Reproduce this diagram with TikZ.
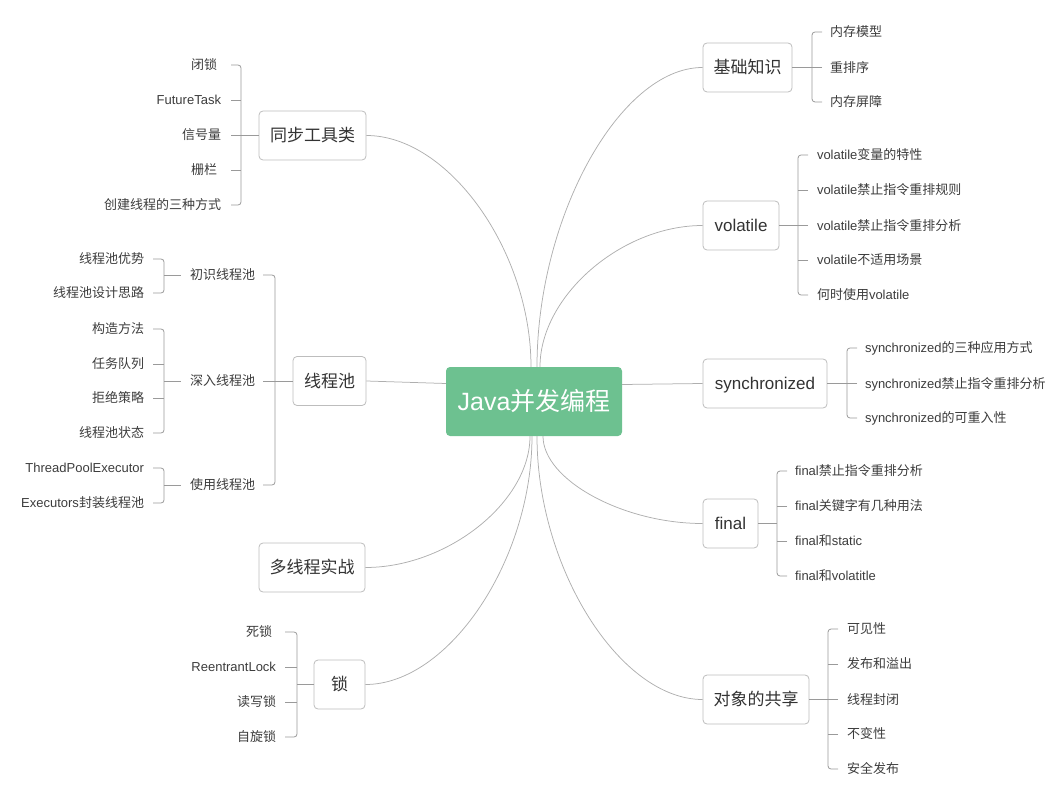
\documentclass[tikz,border=0pt]{standalone}
\usepackage{fontspec}
\setmainfont{Liberation Sans}
\newfontfamily\cjkf{Noto Sans CJK SC}
\newcommand\zhs[1]{{\cjkf #1}}
\usetikzlibrary{calc}
\definecolor{boxgray}{HTML}{BDBDBD}
\definecolor{linegray}{HTML}{AFAFAF}
\definecolor{bracegray}{HTML}{9A9A9A}
\definecolor{textdark}{HTML}{333333}
\definecolor{textmid}{HTML}{3C3C3C}
\definecolor{rootgreen}{HTML}{6DC190}
\newcommand\mmcurve[2]{\coordinate (tmpk) at (#1|-#2);
  \draw[link] (#1) .. controls ($(#1)!.5!(tmpk)$) and ($(#2)!.5!(tmpk)$) .. (#2);}
\begin{document}
\begin{tikzpicture}[x=1pt,y=-1pt,
  root/.style={fill=rootgreen, rounded corners=4pt, minimum width=176pt, minimum height=69pt,
    inner sep=0pt, text=white, font=\fontsize{25}{28}\selectfont, text height=18pt, text depth=1pt},
  topic/.style={draw=boxgray, line width=0.8pt, rounded corners=4pt, fill=white,
    minimum height=49pt, inner sep=0pt, text=textdark,
    font=\fontsize{17}{20}\selectfont, text height=12.5pt, text depth=0.5pt},
  leaf/.style={inner sep=0pt, outer sep=0pt, text=textmid,
    font=\fontsize{13}{15}\selectfont, text height=9.6pt, text depth=0.4pt},
  lleaf/.style={leaf, anchor=east},
  rleaf/.style={leaf, anchor=west},
  link/.style={draw=linegray, line width=0.75pt},
  brace/.style={draw=bracegray, line width=0.8pt, rounded corners=3pt}]
\path[use as bounding box] (0,0) rectangle (1054,799);

% root and main topics
\node[root] (c) at (534,401.5) {Java\zhs{并发编程}};
\node[topic, minimum width=107pt] (tb) at (312.5,135.5) {\zhs{同步工具类}};
\node[topic, minimum width=73pt] (xc) at (329.5,381) {\zhs{线程池}};
\node[topic, minimum width=106pt] (dx) at (312,567.5) {\zhs{多线程实战}};
\node[topic, minimum width=51pt] (so) at (339.5,684.5) {\zhs{锁}};
\node[topic, minimum width=89pt] (jc) at (747.5,67.5) {\zhs{基础知识}};
\node[topic, minimum width=76pt] (vo) at (741,225.5) {volatile};
\node[topic, minimum width=124pt] (sy) at (765,383.5) {synchronized};
\node[topic, minimum width=55pt] (fi) at (730.5,523.5) {final};
\node[topic, minimum width=106pt] (ds) at (756,699.5) {\zhs{对象的共享}};

% connectors from root
\coordinate (stb) at ([xshift=-3pt]c.north);
\coordinate (sjc) at ([xshift=3pt]c.north);
\coordinate (svo) at ([xshift=6pt]c.north);
\coordinate (sdx) at ([xshift=-4pt]c.south);
\coordinate (sso) at ([xshift=-2pt]c.south);
\coordinate (sds) at ([xshift=3pt]c.south);
\coordinate (sfi) at ([xshift=9pt]c.south);
\mmcurve{stb}{tb.east}
\mmcurve{sjc}{jc.west}
\mmcurve{svo}{vo.west}
\mmcurve{sdx}{dx.east}
\mmcurve{sso}{so.east}
\mmcurve{sds}{ds.west}
\mmcurve{sfi}{fi.west}
\draw[link] (xc.east) -- ([yshift=18pt]c.west);
\draw[link] ([yshift=17pt]c.east) -- (sy.west);

% ---- 同步工具类
\node[lleaf] (tb1) at (217,65) {\zhs{闭锁}};
\node[lleaf] (tb2) at (221,100) {FutureTask};
\node[lleaf] (tb3) at (221,135) {\zhs{信号量}};
\node[lleaf] (tb4) at (217,170) {\zhs{栅栏}};
\node[lleaf] (tb5) at (221,205) {\zhs{创建线程的三种方式}};
\coordinate (tbT) at (231,0); \coordinate (tbS) at (241,0);
\draw[brace] (tbT|-tb1) -- (tbS|-tb1) -- (tbS|-tb5) -- (tbT|-tb5);
\draw[brace] (tbT|-tb2) -- (tbS|-tb2);
\draw[brace] (tbT|-tb3) -- (tbS|-tb3);
\draw[brace] (tbT|-tb4) -- (tbS|-tb4);
\draw[brace] (tb.west) -- (tbS|-tb.west);

% ---- 线程池
\node[lleaf] (xa) at (255,275) {\zhs{初识线程池}};
\node[lleaf] (xb) at (255,381) {\zhs{深入线程池}};
\node[lleaf] (xd) at (255,485) {\zhs{使用线程池}};
\coordinate (xcT) at (263,0); \coordinate (xcS) at (275,0);
\draw[brace] (xcT|-xa) -- (xcS|-xa) -- (xcS|-xd) -- (xcT|-xd);
\draw[brace] (xcT|-xb) -- (xcS|-xb);
\draw[brace] (xc.west) -- (xcS|-xc.west);

\coordinate (lT) at (153,0); \coordinate (lS) at (164,0);
\node[lleaf] (xa1) at (144,259) {\zhs{线程池优势}};
\node[lleaf] (xa2) at (144,293) {\zhs{线程池设计思路}};
\draw[brace] (lT|-xa1) -- (lS|-xa1) -- (lS|-xa2) -- (lT|-xa2);
\draw[brace] (lS|-xa) -- ([xshift=-9pt]xa.west);

\node[lleaf] (xb1) at (144,329) {\zhs{构造方法}};
\node[lleaf] (xb2) at (144,364) {\zhs{任务队列}};
\node[lleaf] (xb3) at (144,398) {\zhs{拒绝策略}};
\node[lleaf] (xb4) at (144,433) {\zhs{线程池状态}};
\draw[brace] (lT|-xb1) -- (lS|-xb1) -- (lS|-xb4) -- (lT|-xb4);
\draw[brace] (lT|-xb2) -- (lS|-xb2);
\draw[brace] (lT|-xb3) -- (lS|-xb3);
\draw[brace] (lS|-xb) -- ([xshift=-9pt]xb.west);

\node[lleaf] (xd1) at (144,468) {ThreadPoolExecutor};
\node[lleaf] (xd2) at (144,503) {Executors\zhs{封装线程池}};
\draw[brace] (lT|-xd1) -- (lS|-xd1) -- (lS|-xd2) -- (lT|-xd2);
\draw[brace] (lS|-xd) -- ([xshift=-9pt]xd.west);

% ---- 锁
\node[lleaf] (so1) at (272,632) {\zhs{死锁}};
\node[lleaf] (so2) at (276,667) {ReentrantLock};
\node[lleaf] (so3) at (276,702) {\zhs{读写锁}};
\node[lleaf] (so4) at (276,737) {\zhs{自旋锁}};
\coordinate (soT) at (285,0); \coordinate (soS) at (297,0);
\draw[brace] (soT|-so1) -- (soS|-so1) -- (soS|-so4) -- (soT|-so4);
\draw[brace] (soT|-so2) -- (soS|-so2);
\draw[brace] (soT|-so3) -- (soS|-so3);
\draw[brace] (so.west) -- (soS|-so.west);

% ---- 基础知识
\node[rleaf] (jc1) at (830,32) {\zhs{内存模型}};
\node[rleaf] (jc2) at (830,67.5) {\zhs{重排序}};
\node[rleaf] (jc3) at (830,102) {\zhs{内存屏障}};
\coordinate (jcT) at (822,0); \coordinate (jcS) at (812,0);
\draw[brace] (jcT|-jc1) -- (jcS|-jc1) -- (jcS|-jc3) -- (jcT|-jc3);
\draw[brace] (jcT|-jc2) -- (jcS|-jc2);
\draw[brace] (jc.east) -- (jcS|-jc.east);

% ---- volatile
\node[rleaf] (vo1) at (817,155) {volatile\zhs{变量的特性}};
\node[rleaf] (vo2) at (817,190) {volatile\zhs{禁止指令重排规则}};
\node[rleaf] (vo3) at (817,225.5) {volatile\zhs{禁止指令重排分析}};
\node[rleaf] (vo4) at (817,260) {volatile\zhs{不适用场景}};
\node[rleaf] (vo5) at (817,295) {\zhs{何时使用}volatile};
\coordinate (voT) at (808,0); \coordinate (voS) at (798,0);
\draw[brace] (voT|-vo1) -- (voS|-vo1) -- (voS|-vo5) -- (voT|-vo5);
\draw[brace] (voT|-vo2) -- (voS|-vo2);
\draw[brace] (voT|-vo3) -- (voS|-vo3);
\draw[brace] (voT|-vo4) -- (voS|-vo4);
\draw[brace] (vo.east) -- (voS|-vo.east);

% ---- synchronized
\node[rleaf] (sy1) at (865,348) {synchronized\zhs{的三种应用方式}};
\node[rleaf] (sy2) at (865,383.5) {synchronized\zhs{禁止指令重排分析}};
\node[rleaf] (sy3) at (865,418) {synchronized\zhs{的可重入性}};
\coordinate (syT) at (857,0); \coordinate (syS) at (847,0);
\draw[brace] (syT|-sy1) -- (syS|-sy1) -- (syS|-sy3) -- (syT|-sy3);
\draw[brace] (syT|-sy2) -- (syS|-sy2);
\draw[brace] (sy.east) -- (syS|-sy.east);

% ---- final
\node[rleaf] (fi1) at (795,471) {final\zhs{禁止指令重排分析}};
\node[rleaf] (fi2) at (795,506) {final\zhs{关键字有几种用法}};
\node[rleaf] (fi3) at (795,541) {final\zhs{和}static};
\node[rleaf] (fi4) at (795,576) {final\zhs{和}volatitle};
\coordinate (fiT) at (787,0); \coordinate (fiS) at (777,0);
\draw[brace] (fiT|-fi1) -- (fiS|-fi1) -- (fiS|-fi4) -- (fiT|-fi4);
\draw[brace] (fiT|-fi2) -- (fiS|-fi2);
\draw[brace] (fiT|-fi3) -- (fiS|-fi3);
\draw[brace] (fi.east) -- (fiS|-fi.east);

% ---- 对象的共享
\node[rleaf] (ds1) at (847,629) {\zhs{可见性}};
\node[rleaf] (ds2) at (847,664) {\zhs{发布和溢出}};
\node[rleaf] (ds3) at (847,699.5) {\zhs{线程封闭}};
\node[rleaf] (ds4) at (847,734) {\zhs{不变性}};
\node[rleaf] (ds5) at (847,769) {\zhs{安全发布}};
\coordinate (dsT) at (838,0); \coordinate (dsS) at (828,0);
\draw[brace] (dsT|-ds1) -- (dsS|-ds1) -- (dsS|-ds5) -- (dsT|-ds5);
\draw[brace] (dsT|-ds2) -- (dsS|-ds2);
\draw[brace] (dsT|-ds3) -- (dsS|-ds3);
\draw[brace] (dsT|-ds4) -- (dsS|-ds4);
\draw[brace] (ds.east) -- (dsS|-ds.east);
\end{tikzpicture}
\end{document}
